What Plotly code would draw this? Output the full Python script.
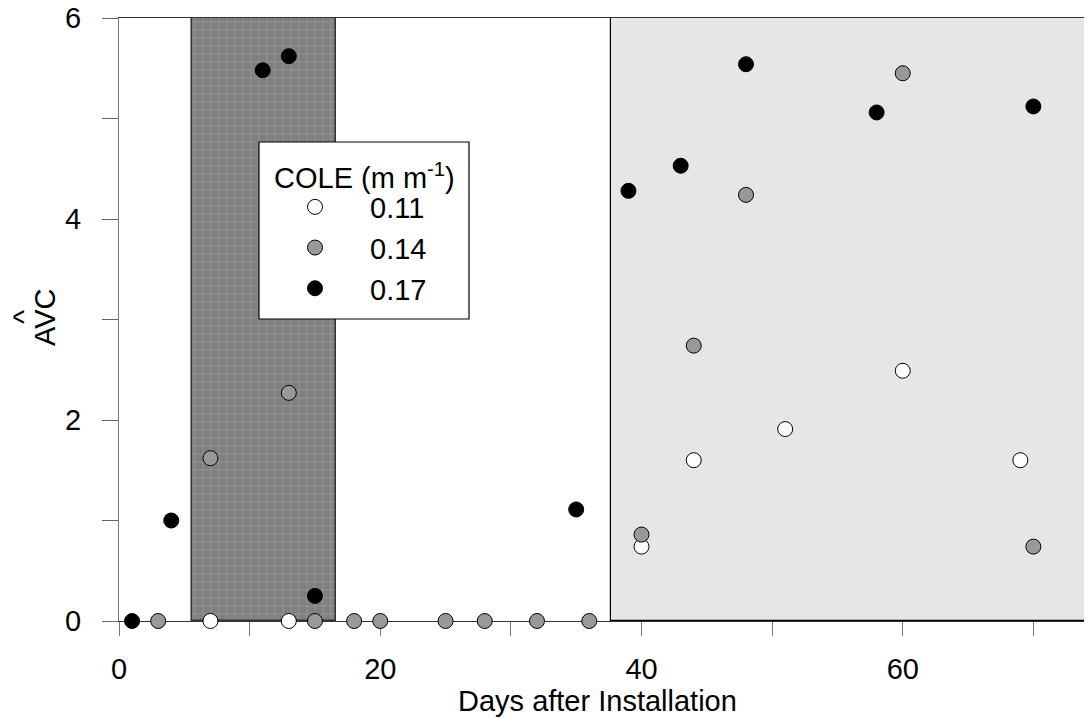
import plotly.graph_objects as go

# ---- data ----
cole_011_days = [7, 13, 40, 44, 51, 60, 69]
cole_011_avc = [0, 0, 0.74, 1.6, 1.91, 2.49, 1.6]

cole_014_days = [3, 7, 13, 15, 18, 20, 25, 28, 32, 36, 40, 44, 48, 60, 70]
cole_014_avc = [0, 1.62, 2.27, 0, 0, 0, 0, 0, 0, 0, 0.86, 2.74, 4.24, 5.45, 0.74]

cole_017_days = [1, 4, 11, 13, 15, 35, 39, 43, 48, 58, 70]
cole_017_avc = [0, 1.0, 5.48, 5.62, 0.25, 1.11, 4.28, 4.53, 5.54, 5.06, 5.12]

series_names = ["0.11", "0.14", "0.17"]
series_fill = ["#ffffff", "#999999", "#000000"]

# shaded periods (days)
dark_period = [5.6, 16.65]
light_period = [37.67, 75.1]

x_range = [0, 75.1]
y_range = [0, 6]
x_ticks = [0, 20, 40, 60]
x_minor = [10, 30, 50, 70]
y_ticks = [0, 2, 4, 6]
y_minor = [1, 3, 5]

FONT = "Liberation Sans, Arial, sans-serif"
FS = 29

fig = go.Figure()

# light grey period
fig.add_trace(go.Bar(
    x=[(light_period[0] + light_period[1]) / 2], y=[y_range[1]], base=[0],
    width=[light_period[1] - light_period[0]],
    marker=dict(color="#e6e6e6", line=dict(color="#000000", width=1.2)),
    showlegend=False, hoverinfo="skip"))

# dark patterned period
fig.add_trace(go.Bar(
    x=[(dark_period[0] + dark_period[1]) / 2], y=[y_range[1]], base=[0],
    width=[dark_period[1] - dark_period[0]],
    marker=dict(color="#808080", line=dict(color="#333333", width=1.5),
                pattern=dict(shape="+", fgcolor="#cccccc", bgcolor="#808080",
                             size=8, solidity=0.12)),
    showlegend=False, hoverinfo="skip"))

for name, xs, ys, col in zip(series_names,
                             [cole_011_days, cole_014_days, cole_017_days],
                             [cole_011_avc, cole_014_avc, cole_017_avc],
                             series_fill):
    fig.add_trace(go.Scatter(
        x=xs, y=ys, mode="markers", name=name, cliponaxis=False,
        marker=dict(size=15, color=col, line=dict(color="#000000", width=1))))

PW, PH = 981, 603   # plot area in pixels
L0, T0 = 119, 18    # plot area corner on screen


def px_x(sx):
    return (sx - L0) / PW


def px_y(sy):
    return (T0 + PH - sy) / PH


fig.update_layout(
    width=1092, height=719,
    margin=dict(l=111, r=0, t=10, b=106, autoexpand=False),
    paper_bgcolor="white", plot_bgcolor="white",
    font=dict(family=FONT, size=FS, color="#000000"),
    barmode="overlay", bargap=0,
    showlegend=True,
    legend=dict(
        x=px_x(260), y=px_y(248), xanchor="left", yanchor="middle",
        bgcolor="rgba(0,0,0,0)", borderwidth=0,
        font=dict(size=FS), itemwidth=100, tracegroupgap=0),
    xaxis=dict(
        range=x_range, tickvals=x_ticks + x_minor,
        ticktext=[str(v) for v in x_ticks] + ["" for _ in x_minor],
        ticks="outside", ticklen=14, tickwidth=1.3, tickcolor="#777777",
        showline=True, linecolor="#333333", linewidth=1.3, mirror=True,
        showgrid=False, zeroline=False, layer="below traces",
        automargin=False,
        ticklabelstandoff=8, ticklabeloverflow="allow"),
    yaxis=dict(
        range=y_range, tickvals=y_ticks + y_minor,
        ticktext=[str(v) for v in y_ticks] + ["" for _ in y_minor],
        ticks="outside", ticklen=16, tickwidth=1.3, tickcolor="#666666",
        showline=True, linecolor="#777777", linewidth=1.3,
        showgrid=False, zeroline=False, layer="below traces",
        automargin=False,
        ticklabelstandoff=15, ticklabeloverflow="allow"),
    shapes=[dict(type="rect", xref="paper", yref="paper",
                 x0=px_x(259), x1=px_x(469), y0=px_y(319), y1=px_y(142),
                 fillcolor="white", line=dict(color="#000000", width=1.2),
                 layer="above")],
    annotations=[
        dict(text="AVC", xref="paper", yref="paper",
             x=px_x(45), y=px_y(318), xanchor="center", yanchor="middle",
             showarrow=False, textangle=-90,
             font=dict(size=FS, family=FONT)),
        dict(text="^", xref="paper", yref="paper",
             x=px_x(23), y=px_y(317), xanchor="center", yanchor="middle",
             showarrow=False, textangle=-90,
             font=dict(size=30, family=FONT)),
        dict(text="Days after Installation", xref="paper", yref="paper",
             x=px_x(597), y=px_y(701), xanchor="center", yanchor="middle",
             showarrow=False, font=dict(size=FS, family=FONT)),
        dict(text="COLE (m m<sup>-1</sup>)", xref="paper", yref="paper",
             x=px_x(364), y=px_y(176), xanchor="center", yanchor="middle",
             showarrow=False, font=dict(size=FS, family=FONT)),
    ],
)

fig.write_html("out.html")
